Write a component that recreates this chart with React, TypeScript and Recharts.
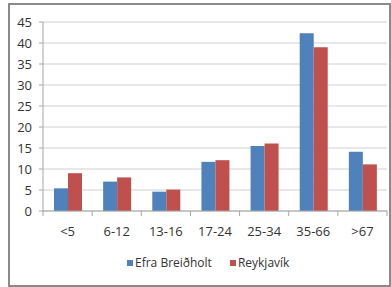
import React from 'react';
import { BarChart, Bar, XAxis, YAxis, CartesianGrid, Legend } from 'recharts';

const categories = ['<5', '6-12', '13-16', '17-24', '25-34', '35-66', '>67'];
const efraBreidholt = [5.4, 7.0, 4.6, 11.7, 15.5, 42.3, 14.1];
const reykjavik = [9.0, 8.0, 5.1, 12.1, 16.1, 39.0, 11.1];
const yTicks = [0, 5, 10, 15, 20, 25, 30, 35, 40, 45];

const seriesNames = ['Efra Breiðholt', 'Reykjavík'];
const seriesColors = ['#4F81BD', '#C0504D'];

const data = categories.map((c, i) => ({
  cat: c,
  a: efraBreidholt[i],
  b: reykjavik[i],
}));

const W = 391;
const H = 287;
const MARGIN = { top: 22, right: 4, left: 3, bottom: 0 };
const Y_AXIS_W = 40;
const PLOT_W = W - MARGIN.left - MARGIN.right - Y_AXIS_W;
const BAND = PLOT_W / categories.length;
const FONT = '"Open Sans", sans-serif';
const TEXT = '#333';
const AXIS = '#a6a6a6';

const XTick = (props: any) => {
  const { x, y, payload, index } = props;
  const left = x - BAND / 2;
  const right = x + BAND / 2;
  return (
    <g>
      <line x1={left} y1={y} x2={left} y2={y + 5} stroke={AXIS} strokeWidth={1} />
      {index === categories.length - 1 && (
        <line x1={right} y1={y} x2={right} y2={y + 5} stroke={AXIS} strokeWidth={1} />
      )}
      <text
        x={x}
        y={y + 20}
        textAnchor="middle"
        dominantBaseline="central"
        fill={TEXT}
        fontSize={13}
        fontFamily={FONT}
      >
        {payload.value}
      </text>
    </g>
  );
};

const renderLegend = () => (
  <div
    style={{
      display: 'flex',
      alignItems: 'center',
      gap: 18,
      fontFamily: FONT,
      fontSize: 12,
      color: TEXT,
      lineHeight: '14px',
      whiteSpace: 'nowrap',
    }}
  >
    {seriesNames.map((n, i) => (
      <div key={n} style={{ display: 'flex', alignItems: 'center' }}>
        <span
          style={{
            display: 'inline-block',
            width: 6,
            height: 6,
            background: seriesColors[i],
            marginRight: 2,
          }}
        />
        <span>{n}</span>
      </div>
    ))}
  </div>
);

export default function App() {
  return (
    <div style={{ position: 'absolute', left: 0, top: 0, width: W, height: H, background: '#fff' }}>
      <div
        style={{
          position: 'absolute',
          left: 8,
          top: 3,
          width: 383,
          height: 284,
          border: '2px solid #8a8a8a',
          boxSizing: 'border-box',
        }}
      />
      <div style={{ position: 'absolute', left: 0, top: 0 }}>
        <BarChart
          width={W}
          height={H}
          data={data}
          margin={MARGIN}
          barSize={14}
          barGap={0}
        >
          <CartesianGrid vertical={false} stroke="#d0d0d0" />
          <XAxis
            dataKey="cat"
            height={30}
            tickLine={false}
            tickSize={0}
            tickMargin={0}
            stroke={AXIS}
            tick={<XTick />}
            interval={0}
          />
          <YAxis
            width={Y_AXIS_W}
            domain={[0, 45]}
            ticks={yTicks}
            interval={0}
            stroke={AXIS}
            tickSize={4}
            tickMargin={7}
            tick={{ fill: TEXT, fontSize: 13, fontFamily: FONT }}
          />
          <Legend
            verticalAlign="bottom"
            height={46}
            content={renderLegend}
            wrapperStyle={{ left: 127, top: 256, bottom: 'auto', width: 'auto' }}
          />
          <Bar dataKey="a" name={seriesNames[0]} fill={seriesColors[0]} isAnimationActive={false} />
          <Bar dataKey="b" name={seriesNames[1]} fill={seriesColors[1]} isAnimationActive={false} />
        </BarChart>
      </div>
    </div>
  );
}
